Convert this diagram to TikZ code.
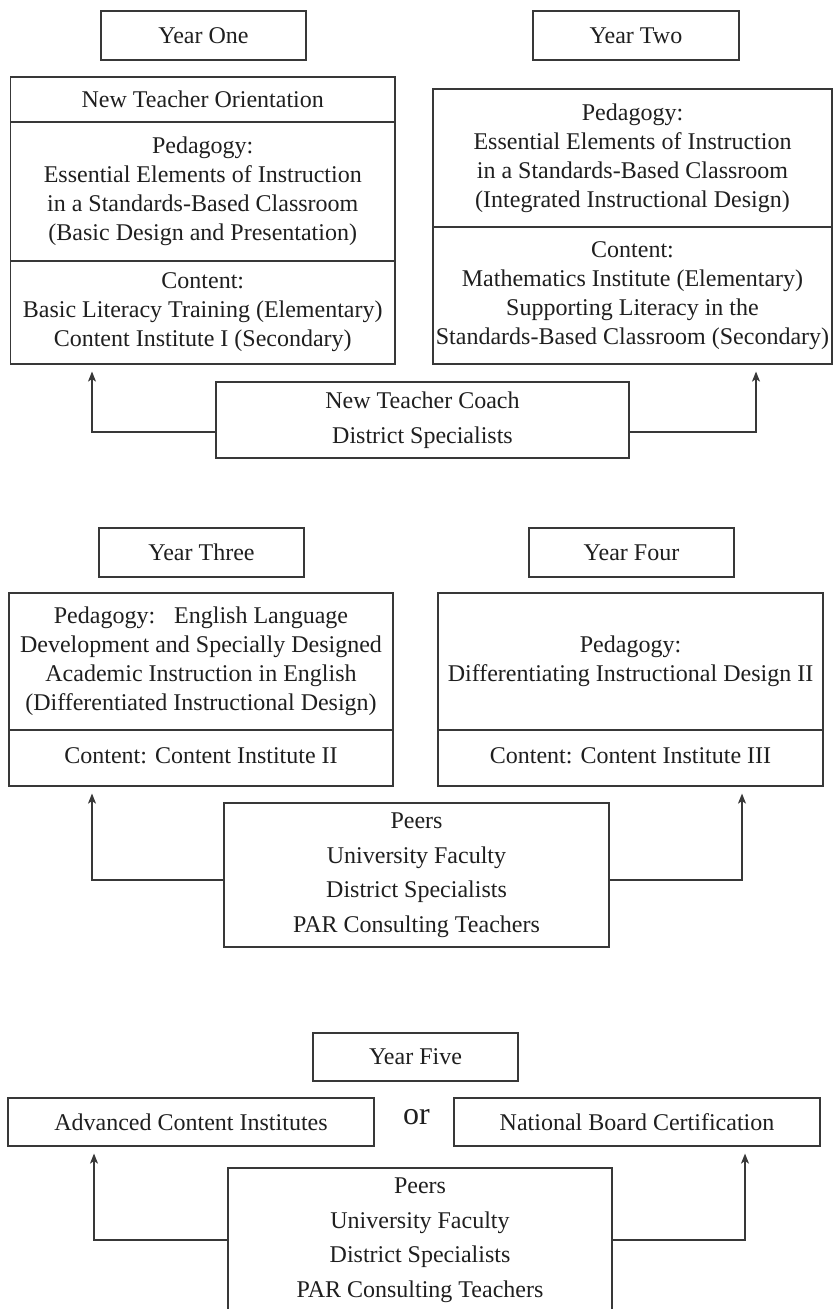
\documentclass[tikz,border=0pt]{standalone}
\usepackage{fontspec}
\setmainfont{Liberation Serif}
\usetikzlibrary{arrows.meta}
\tikzset{
  bx/.style={draw=black!78, line width=1.2pt, align=center, inner sep=0pt,
    text=black!88, font=\fontsize{24}{29}\selectfont},
  wide/.style={font=\fontsize{24}{34.5}\selectfont},
  arr/.style={draw=black!78, line width=1.2pt,
    -{Stealth[length=10pt,width=8pt,inset=2.5pt]}, shorten >=7pt},
}
\begin{document}
\begin{tikzpicture}[x=1pt,y=-1pt]
\useasboundingbox (0,0) rectangle (833,1309);
\clip (0,0) rectangle (833,1309);
\fill[white] (0,0) rectangle (833,1309);

% Year One / Year Two
\node[bx, minimum width=205pt, minimum height=49pt] (y1) at (203.5,35.5) {Year One};
\node[bx, minimum width=206pt, minimum height=49pt] (y2) at (636,35.5) {Year Two};

\node[bx, minimum width=384.5pt, minimum height=45pt] (y1a) at (202.75,99.5) {New Teacher Orientation};
\node[bx, minimum width=384.5pt, minimum height=139pt] (y1b) at (202.75,191.5)
  {Pedagogy:\\Essential Elements of Instruction\\in a Standards-Based Classroom\\(Basic Design and Presentation)};
\node[bx, minimum width=384.5pt, minimum height=103pt] (y1c) at (202.75,312.5)
  {Content:\\Basic Literacy Training (Elementary)\\Content Institute I (Secondary)};

\node[bx, minimum width=399pt, minimum height=138pt] (y2a) at (632.5,158)
  {Pedagogy:\\Essential Elements of Instruction\\in a Standards-Based Classroom\\(Integrated Instructional Design)};
\node[bx, minimum width=399pt, minimum height=137pt] (y2b) at (632.5,295.5)
  {Content:\\Mathematics Institute (Elementary)\\Supporting Literacy in the\\Standards-Based Classroom (Secondary)};

\node[bx, wide, minimum width=413pt, minimum height=76pt] (coach) at (422.5,420)
  {New Teacher Coach\\District Specialists};

\coordinate (c1) at (92,432);
\coordinate (c2) at (756,432);
\draw[arr] (c1 -| coach.west) -| (y1c.south -| c1);
\draw[arr] (c2 -| coach.east) -| (y2b.south -| c2);

% Year Three / Year Four
\node[bx, minimum width=205pt, minimum height=49pt] (y3) at (201.5,552.5) {Year Three};
\node[bx, minimum width=205pt, minimum height=49pt] (y4) at (631.5,552.5) {Year Four};

\node[bx, minimum width=384pt, minimum height=137pt] (y3a) at (201,661.5)
  {Pedagogy:\hspace{19pt}English Language\\Development and Specially Designed\\Academic Instruction in English\\(Differentiated Instructional Design)};
\node[bx, minimum width=384pt, minimum height=56pt] (y3b) at (201,758)
  {\raisebox{5pt}{Content: Content Institute II}};

\node[bx, minimum width=385pt, minimum height=137pt] (y4a) at (630.5,661.5)
  {Pedagogy:\\Differentiating Instructional Design II};
\node[bx, minimum width=385pt, minimum height=56pt] (y4b) at (630.5,758)
  {\raisebox{5pt}{Content: Content Institute III}};

\node[bx, wide, minimum width=385pt, minimum height=144pt] (peers1) at (416.5,875)
  {Peers\\University Faculty\\District Specialists\\PAR Consulting Teachers};

\coordinate (c3) at (92,880);
\coordinate (c4) at (742,880);
\draw[arr] (c3 -| peers1.west) -| (y3b.south -| c3);
\draw[arr] (c4 -| peers1.east) -| (y4b.south -| c4);

% Year Five
\node[bx, minimum width=205pt, minimum height=48pt] (y5) at (415.5,1057) {Year Five};
\node[bx, minimum width=366pt, minimum height=48pt] (adv) at (191,1122) {Advanced Content Institutes};
\node[bx, minimum width=366pt, minimum height=48pt] (nat) at (637,1122) {National Board Certification};
\node[text=black!88, font=\fontsize{32}{36}\selectfont, inner sep=0pt] (or) at (416.5,1117) {or};

\node[bx, wide, minimum width=384pt, minimum height=144pt] (peers2) at (420,1240)
  {Peers\\University Faculty\\District Specialists\\PAR Consulting Teachers};

\coordinate (c5) at (94,1240);
\coordinate (c6) at (745,1240);
\draw[arr] (c5 -| peers2.west) -| (adv.south -| c5);
\draw[arr] (c6 -| peers2.east) -| (nat.south -| c6);
\end{tikzpicture}
\end{document}
